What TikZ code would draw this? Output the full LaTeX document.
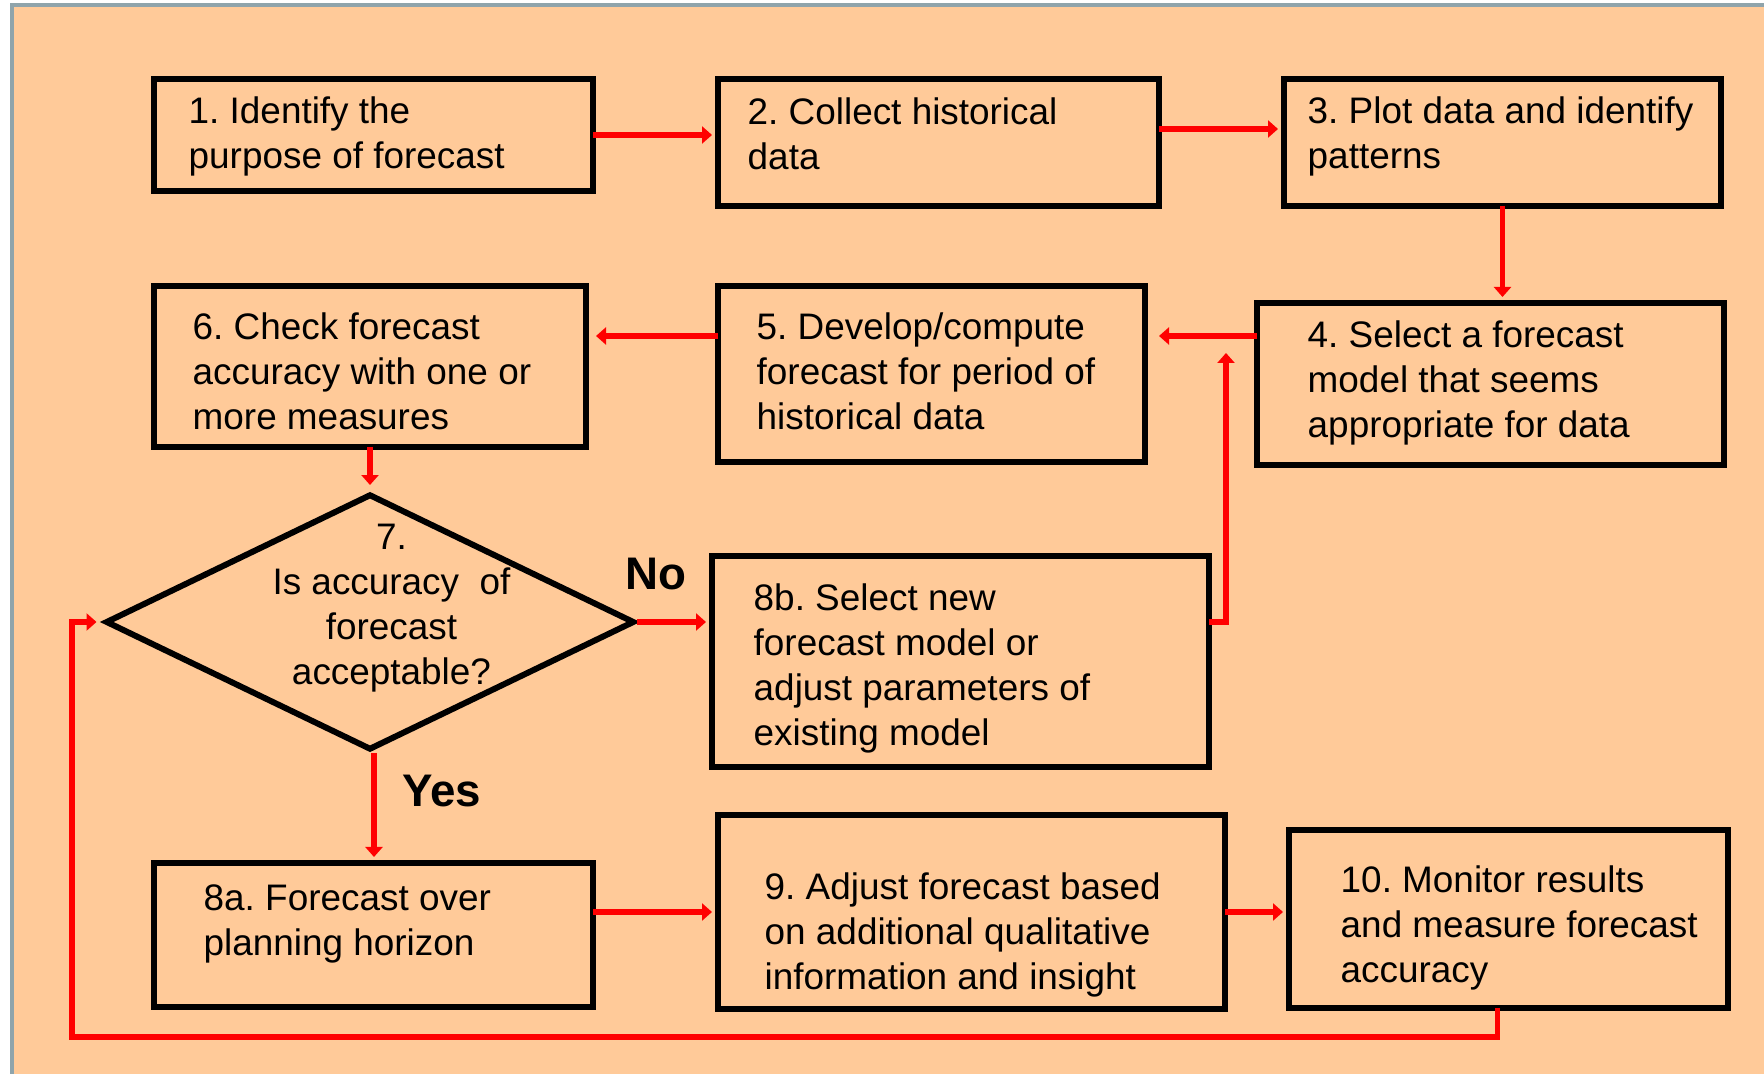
\documentclass[tikz,border=0pt]{standalone}
\usepackage{fontspec}
\setmainfont{Liberation Sans}
\usepackage{tikz}
\usetikzlibrary{shapes.geometric,positioning,arrows.meta}
\definecolor{peach}{HTML}{FFCA99}
\definecolor{frameblue}{HTML}{8FA4AB}
\definecolor{flowred}{HTML}{FF0000}
\frenchspacing
\tikzset{
  stepbox/.style={draw,line width=1.7pt,anchor=north west,inner sep=0pt,outer sep=0pt},
  steptext/.style={anchor=west,align=left,inner sep=0pt,yshift=-0.35mm,font=\fontsize{10.5pt}{12.8pt}\selectfont},
  flow/.style={draw=flowred,line width=1.6pt,-{Triangle[length=1mm,width=1.7mm]},shorten >=0.6mm},
  answer/.style={font=\fontsize{13pt}{15pt}\selectfont\bfseries}
}

\begin{document}
\begin{tikzpicture}
  \useasboundingbox (0,0) rectangle (17.64,10.74);
  \fill[peach] (0.12,0) rectangle (17.64,10.69);
  \draw[frameblue,line width=0.9pt] (0.12,0) -- (0.12,10.69) -- (17.64,10.69);

  % boxes
  \node[stepbox,minimum width=4.39cm,minimum height=1.12cm] (s1) at (1.54,9.95) {};
  \node[stepbox,minimum width=4.41cm,minimum height=1.27cm] (s2) at (7.18,9.95) {};
  \node[stepbox,minimum width=4.37cm,minimum height=1.27cm] (s3) at (12.84,9.95) {};
  \node[stepbox,minimum width=4.67cm,minimum height=1.62cm] (s4) at (12.57,7.71) {};
  \node[stepbox,minimum width=4.27cm,minimum height=1.76cm] (s5) at (7.18,7.88) {};
  \node[stepbox,minimum width=4.32cm,minimum height=1.61cm] (s6) at (1.54,7.88) {};
  \node[stepbox,minimum width=4.97cm,minimum height=2.11cm] (s8b) at (7.12,5.18) {};
  \node[stepbox,minimum width=4.39cm,minimum height=1.44cm] (s8a) at (1.54,2.11) {};
  \node[stepbox,minimum width=5.07cm,minimum height=1.94cm] (s9) at (7.18,2.59) {};
  \node[stepbox,minimum width=4.39cm,minimum height=1.78cm] (s10) at (12.89,2.44) {};
  \node[diamond,draw,line width=1.7pt,minimum width=5.29cm,minimum height=2.56cm,inner sep=0pt] (acc) at (3.70,4.52) {};

  % texts
  \node[steptext] (t1) at (1.88,9.41) {1. Identify the\\purpose of forecast};
  \node[steptext] (t2) at (7.47,9.44) {2. Collect historical\\data};
  \node[steptext] (t3) at (13.07,9.41) {3. Plot data and identify\\patterns};
  \node[steptext] (t4) at (13.07,6.95) {4. Select a forecast\\model that seems\\appropriate for data};
  \node[steptext] (t5) at (7.56,7.06) {5. Develop/compute\\forecast for period of\\historical data};
  \node[steptext] (t6) at (1.92,7.06) {6. Check forecast\\accuracy with one or\\more measures};
  \node[steptext,anchor=center,align=center] (t7) at (3.915,4.69) {7.\\Is accuracy\ \ of\\forecast\\acceptable?};
  \node[steptext] (t8b) at (7.53,4.09) {8b. Select new\\forecast model or\\adjust parameters of\\existing model};
  \node[steptext] (t8a) at (2.03,1.54) {8a. Forecast over\\planning horizon};
  \node[steptext] (t9) at (7.64,1.43) {9. Adjust forecast based\\on additional qualitative\\information and insight};
  \node[steptext] (t10) at (13.40,1.50) {10. Monitor results\\and measure forecast\\accuracy};

  \node[answer] (no) at (6.56,5.00) {No};
  \node[answer] (yes) at (4.42,2.83) {Yes};

  % connectors
  \draw[flow] (s1.east) -- (s1.east -| s2.west);
  \draw[flow] ([yshift=1.35mm]s2.east) -- ([yshift=1.35mm]s2.east -| s3.west);
  \draw[flow] (s3.south) -- (s3.south |- s4.north);
  \draw[flow,shorten >=1.4mm] ([yshift=-3.3mm]s4.north west) -- ([yshift=-3.3mm]s4.north west -| s5.east);
  \draw[flow,shorten >=1mm] ([yshift=-5mm]s5.north west) -- ([yshift=-5mm]s5.north west -| s6.east);
  \draw[flow] (s6.south) -- (s6.south |- acc.north);
  \draw[flow] (acc.east) -- (acc.east -| s8b.west);
  \coordinate (back5) at (12.26,7.27);
  \draw[flow] (acc.east -| s8b.east) -| (back5);
  \draw[flow] ([xshift=0.4mm]acc.south) -- ([xshift=0.4mm]acc.south |- s8a.north);
  \draw[flow] (s8a.east |- s9.west) -- (s9.west);
  \draw[flow] (s9.east) -- (s9.east -| s10.west);
  \coordinate (loop) at (0.72,0.37);
  \draw[flow] ([xshift=-1.1mm]s10.south) |- (loop) |- (acc.west);
\end{tikzpicture}
\end{document}
